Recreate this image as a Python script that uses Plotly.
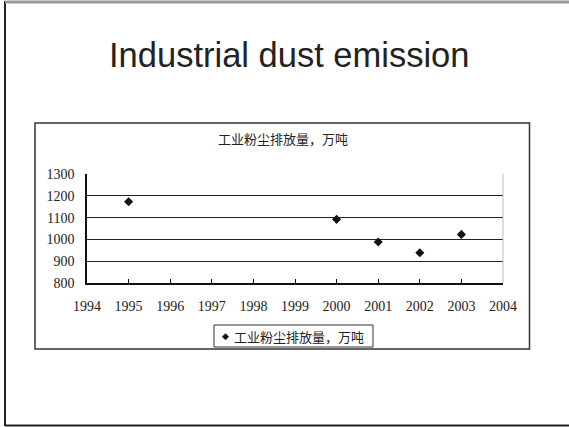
import plotly.graph_objects as go

# Industrial dust emission, 10k tonnes
years = [1995, 2000, 2001, 2002, 2003]
emission = [1173, 1092, 988, 939, 1023]
series_name = "工业粉尘排放量，万吨"
x_ticks = list(range(1994, 2005))
y_ticks = [800, 900, 1000, 1100, 1200, 1300]

W, H = 569, 427


def px(x):
    return x / W


def py(y):
    return 1 - y / H


num_font = "Liberation Serif, Times New Roman, serif"
cjk_font = "Noto Sans CJK SC, Liberation Serif, serif"

fig = go.Figure()
fig.add_trace(go.Scatter(
    x=years, y=emission, mode="markers", name=series_name,
    marker=dict(symbol="diamond", size=7, color="#111111"),
    showlegend=False,
))

fig.update_layout(
    width=W, height=H,
    margin=dict(l=0, r=0, t=0, b=0, pad=0, autoexpand=False),
    paper_bgcolor="white", plot_bgcolor="white",
    showlegend=False,
    xaxis=dict(
        domain=[px(87), px(503)], range=[1994, 2004],
        tickvals=x_ticks, ticktext=[str(v) for v in x_ticks],
        ticks="inside", ticklen=4, tickcolor="#111", tickwidth=1,
        ticklabelstandoff=9,
        showgrid=False, zeroline=False,
        showline=True, linecolor="#111", linewidth=1.5,
        tickfont=dict(family=num_font, size=14, color="#222"),
    ),
    yaxis=dict(
        domain=[py(283), py(174)], range=[800, 1300],
        tickvals=y_ticks,
        ticks="", showgrid=True, gridcolor="#222", gridwidth=1,
        ticklabelstandoff=8,
        zeroline=False, showline=True, linecolor="#111", linewidth=1.5,
        tickfont=dict(family=num_font, size=14, color="#222"),
    ),
    font=dict(family=cjk_font),
)

shapes = [
    # page frame
    dict(type="line", xref="paper", yref="paper", x0=px(5), x1=px(5), y0=py(1), y1=py(426),
         line=dict(color="#222", width=2)),
    dict(type="line", xref="paper", yref="paper", x0=px(5), x1=1, y0=py(2), y1=py(2),
         line=dict(color="#999", width=3)),
    dict(type="line", xref="paper", yref="paper", x0=px(5), x1=1, y0=py(425.5), y1=py(425.5),
         line=dict(color="#222", width=2)),
    # chart box
    dict(type="rect", xref="paper", yref="paper", x0=px(35), x1=px(529.5), y0=py(349), y1=py(123),
         line=dict(color="#333", width=1.5)),
    # plot area right edge
    dict(type="line", xref="paper", yref="paper", x0=px(503), x1=px(503), y0=py(174), y1=py(283),
         line=dict(color="#bbb", width=1)),
    # legend box
    dict(type="rect", xref="paper", yref="paper", x0=px(214), x1=px(373), y0=py(347), y1=py(325),
         line=dict(color="#333", width=1)),
]
fig.update_layout(shapes=shapes)

annotations = [
    dict(text="Industrial dust emission", xref="paper", yref="paper",
         x=px(289), y=py(55), showarrow=False, xanchor="center", yanchor="middle",
         font=dict(family="Liberation Sans, Arial, sans-serif", size=34.5, color="#222")),
    dict(text=series_name, xref="paper", yref="paper",
         x=px(283), y=py(139), showarrow=False, xanchor="center", yanchor="middle",
         font=dict(family=cjk_font, size=13, color="#222")),
    # legend marker and label
    dict(text="◆", xref="paper", yref="paper",
         x=px(225), y=py(336), showarrow=False, xanchor="center", yanchor="middle",
         font=dict(family="DejaVu Sans, sans-serif", size=9, color="#111")),
    dict(text=series_name, xref="paper", yref="paper",
         x=px(232), y=py(336), showarrow=False, xanchor="left", yanchor="middle",
         font=dict(family=cjk_font, size=13, color="#222")),
]
fig.update_layout(annotations=annotations)

fig.write_html("out.html")
